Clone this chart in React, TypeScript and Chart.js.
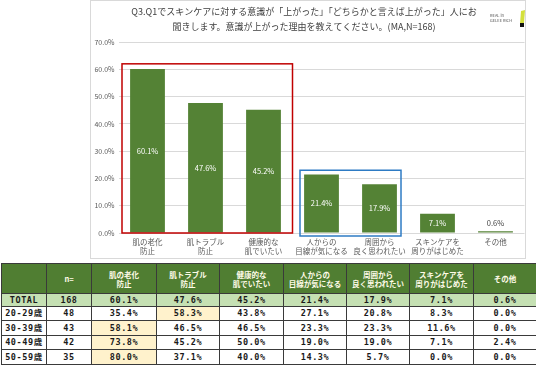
import React, { useEffect, useRef } from "react";
import { Chart, registerables } from "chart.js";
Chart.register(...registerables);

const titleLines = [
  "Q3.Q1でスキンケアに対する意識が「上がった」「どちらかと言えば上がった」人にお",
  "聞きします。意識が上がった理由を教えてください。(MA,N=168)",
];
const categories = [
  ["肌の老化", "防止"],
  ["肌トラブル", "防止"],
  ["健康的な", "肌でいたい"],
  ["人からの", "目線が気になる"],
  ["周囲から", "良く思われたい"],
  ["スキンケアを", "周りがはじめた"],
  ["その他"],
];
const totalValues = [60.1, 47.6, 45.2, 21.4, 17.9, 7.1, 0.6];
const yMax = 70;
const yStep = 10;

// highlight boxes: [first category, last category, top value]
const redGroup = [0, 2, 62];
const blueGroup = [3, 4, 23];

const tableHeaders = [
  "",
  "n=",
  "肌の老化\n防止",
  "肌トラブル\n防止",
  "健康的な\n肌でいたい",
  "人からの\n目線が気になる",
  "周囲から\n良く思われたい",
  "スキンケアを\n周りがはじめた",
  "その他",
];
const rowLabels = ["TOTAL", "20-29歳", "30-39歳", "40-49歳", "50-59歳"];
const rowN = [168, 48, 43, 42, 35];
const rowTotal = totalValues;
const row20s = [35.4, 58.3, 43.8, 27.1, 20.8, 8.3, 0.0];
const row30s = [58.1, 46.5, 46.5, 23.3, 23.3, 11.6, 0.0];
const row40s = [73.8, 45.2, 50.0, 19.0, 19.0, 7.1, 2.4];
const row50s = [80.0, 37.1, 40.0, 14.3, 5.7, 0.0, 0.0];
const tableRows = [rowTotal, row20s, row30s, row40s, row50s];
const colWidths = [45, 45, 65, 63, 64, 63, 63, 64, 63];

const JP = '"Noto Sans CJK JP", "Noto Sans", sans-serif';
const MONO = '"DejaVu Sans Mono", "Noto Sans CJK JP", monospace';
const GREEN = "#548235";

function ChartBox() {
  const ref = useRef<HTMLCanvasElement | null>(null);
  useEffect(() => {
    const canvas = ref.current!;
    const decorPlugin = {
      id: "decor",
      afterDatasetsDraw(chart: any) {
        const ctx = chart.ctx;
        const xs = chart.scales.x;
        const ys = chart.scales.y;
        const catW = xs.getPixelForValue(1) - xs.getPixelForValue(0);
        const meta = chart.getDatasetMeta(0);
        ctx.save();
        ctx.font = `7.5px ${JP}`;
        ctx.textAlign = "center";
        ctx.textBaseline = "middle";
        meta.data.forEach((bar: any, i: number) => {
          const v = totalValues[i];
          const txt = v.toFixed(1) + "%";
          const h = bar.base - bar.y;
          if (h > 14) {
            ctx.fillStyle = "#ffffff";
            ctx.fillText(txt, bar.x, (bar.y + bar.base) / 2);
          } else {
            ctx.fillStyle = "#404040";
            ctx.fillText(txt, bar.x, bar.y - 8);
          }
        });
        ctx.lineWidth = 1.5;
        ctx.strokeStyle = "#c00000";
        {
          const l = xs.getPixelForValue(redGroup[0]) - catW / 2 + 3.5;
          const r = xs.getPixelForValue(redGroup[1]) + catW / 2;
          const t = ys.getPixelForValue(redGroup[2]);
          const b = ys.getPixelForValue(0);
          ctx.strokeRect(l, t, r - l, b - t);
        }
        ctx.strokeStyle = "#2e7bc4";
        {
          const l = xs.getPixelForValue(blueGroup[0]) - catW / 2 + 7.5;
          const r = xs.getPixelForValue(blueGroup[1]) + catW / 2 - 7.5;
          const t = ys.getPixelForValue(blueGroup[2]);
          const b = ys.getPixelForValue(0) + 3;
          ctx.strokeRect(l, t, r - l, b - t);
        }
        ctx.fillStyle = "#404040";
        ctx.font = `9px ${JP}`;
        ctx.textBaseline = "middle";
        ctx.fillText(titleLines[0], 214, 12);
        ctx.fillText(titleLines[1], 214, 27);
        ctx.font = `4px ${JP}`;
        ctx.textAlign = "left";
        ctx.fillStyle = "#555";
        ctx.fillText("REAL in", 400, 15);
        ctx.fillText("GELEE RICH", 400, 20);
        ctx.fillStyle = "#d4e03c";
        ctx.beginPath();
        ctx.moveTo(431, 11);
        ctx.lineTo(435, 10);
        ctx.lineTo(434, 23);
        ctx.lineTo(430, 24);
        ctx.closePath();
        ctx.fill();
        ctx.fillStyle = "#111";
        ctx.fillRect(430, 23, 4, 4);
        ctx.restore();
      },
    };
    const chart = new Chart(canvas, {
      type: "bar",
      data: {
        labels: categories as any,
        datasets: [
          {
            data: totalValues,
            backgroundColor: GREEN,
            barPercentage: 0.6,
            categoryPercentage: 1,
          },
        ],
      },
      options: {
        animation: false,
        responsive: false,
        maintainAspectRatio: false,
        layout: { padding: { left: 0, right: 11.5, top: 42, bottom: 0 } },
        plugins: {
          legend: { display: false },
          tooltip: { enabled: false },
          title: { display: false },
        },
        scales: {
          x: {
            grid: { display: false, drawTicks: false },
            border: { display: false },
            ticks: {
              color: "#595959",
              font: { size: 7.5, family: JP, lineHeight: 1.25 },
              maxRotation: 0,
              minRotation: 0,
              autoSkip: false,
              padding: 4,
            },
            afterFit: (s: any) => {
              s.height = 26;
            },
          },
          y: {
            min: 0,
            max: yMax,
            ticks: {
              stepSize: yStep,
              callback: (v: any) => Number(v).toFixed(1) + "%",
              color: "#595959",
              font: { size: 7, family: JP },
              padding: 4,
            },
            grid: { color: "#d9d9d9", drawTicks: false },
            border: { display: false },
            afterFit: (s: any) => {
              s.width = 28.5;
            },
          },
        },
      },
      plugins: [decorPlugin],
    });
    return () => chart.destroy();
  }, []);
  return (
    <>
      <div
        style={{
          position: "absolute",
          left: 90,
          top: 0,
          width: 436,
          height: 259,
          border: "1px solid #d9d9d9",
          boxSizing: "border-box",
          background: "#fff",
        }}
      />
      <canvas
        ref={ref}
        width={446}
        height={259}
        style={{ position: "absolute", left: 90, top: 0, width: 446, height: 259 }}
      />
    </>
  );
}

function DataTable() {
  const border = "1px solid #3a3a3a";
  return (
    <table
      style={{
        position: "absolute",
        left: 1,
        top: 263,
        borderCollapse: "collapse",
        tableLayout: "fixed",
        width: colWidths.reduce((a, b) => a + b, 0),
      }}
    >
      <colgroup>
        {colWidths.map((w, i) => (
          <col key={i} style={{ width: w }} />
        ))}
      </colgroup>
      <tbody>
        <tr style={{ height: 30 }}>
          {tableHeaders.map((h, i) => (
            <td
              key={i}
              style={{
                background: "#507e32",
                border,
                color: "#fffbe8",
                fontFamily: JP,
                fontSize: 7.5,
                fontWeight: 700,
                lineHeight: "9px",
                textAlign: "center",
                whiteSpace: "pre",
                padding: 0,
                overflow: "hidden",
              }}
            >
              {h}
            </td>
          ))}
        </tr>
        {tableRows.map((row, ri) => {
          const mx = Math.max(...row);
          const isTotal = ri === 0;
          const base: any = {
            border,
            fontFamily: MONO,
            fontSize: 8.5,
            fontWeight: 700,
            color: "#1a1a1a",
            textAlign: "center",
            padding: 0,
            lineHeight: "10px",
            letterSpacing: 0.6,
            whiteSpace: "nowrap",
          };
          const bg = isTotal ? "#c5e0b3" : "#ffffff";
          return (
            <tr key={ri} style={{ height: isTotal ? 12.5 : 14.5 }}>
              <td style={{ ...base, background: bg }}>{rowLabels[ri]}</td>
              <td style={{ ...base, background: bg }}>{rowN[ri]}</td>
              {row.map((v, ci) => (
                <td
                  key={ci}
                  style={{
                    ...base,
                    background: !isTotal && v === mx ? "#fff2cc" : bg,
                  }}
                >
                  {v.toFixed(1) + "%"}
                </td>
              ))}
            </tr>
          );
        })}
      </tbody>
    </table>
  );
}

export default function App() {
  return (
    <div
      style={{
        position: "absolute",
        left: 0,
        top: 0,
        width: 536,
        height: 368,
        background: "#fff",
        overflow: "hidden",
      }}
    >
      <ChartBox />
      <DataTable />
    </div>
  );
}
